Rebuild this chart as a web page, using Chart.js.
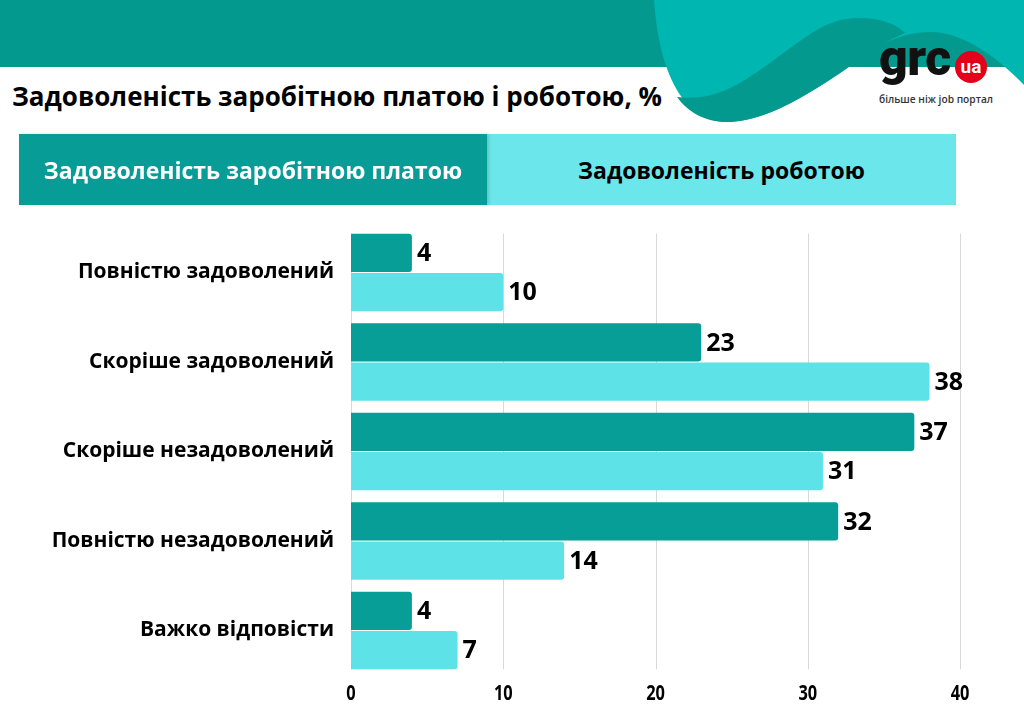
<!DOCTYPE html>
<html>
<head>
<meta charset="utf-8">
<script src="https://cdn.jsdelivr.net/npm/chart.js@4.4.1/dist/chart.umd.min.js"></script>
<style>
  html, body { margin:0; padding:0; background:#fff; }
  body { width:1024px; height:719px; position:relative; overflow:hidden; font-family:'Open Sans', sans-serif; }
  #hdr { position:absolute; left:0; top:0; }
  #legend { position:absolute; left:19px; top:134px; height:71px; display:flex; }
  #legend div { height:71px; display:flex; align-items:center; justify-content:center;
    font-family:'Open Sans', sans-serif; font-weight:700; font-size:23px; position:relative; }
  #c { position:absolute; left:0; top:0; }
</style>
</head>
<body>
<svg id="hdr" width="1024" height="130" xmlns="http://www.w3.org/2000/svg">
  <rect x="0" y="0" width="1024" height="67" fill="#03998f"/>
  <path d="M654,0 L1024,0 L1024,85 C1000,60 965,32 930,32 C880,32 850,70 800,98 C770,115 745,122 727,122 C690,122 660,85 654,0 Z" fill="#00b6b1"/>
  <path d="M677,97 C700,100 720,95 745,80 C785,55 810,28 840,20 C870,14 895,22 905,33 C875,45 850,70 800,98 C770,115 745,122 727,122 C705,122 688,112 677,97 Z" fill="#03998f"/>
  <text x="12" y="106" font-family="Open Sans" font-weight="700" font-size="26" fill="#000">Задоволеність заробітною платою і роботою, %</text>
  <text x="879" y="75" font-family="Roboto" font-weight="900" font-size="50" fill="#111" letter-spacing="-0.5">grc</text>
  <circle cx="971" cy="67" r="16" fill="#e2001a"/>
  <text x="971" y="73" text-anchor="middle" font-family="Roboto" font-weight="700" font-size="19" fill="#fff">ua</text>
  <text x="879" y="103" font-family="Open Sans" font-weight="600" font-size="11.5" fill="#333" textLength="114" lengthAdjust="spacingAndGlyphs">більше ніж job портал</text>
</svg>
<div id="legend"></div>
<canvas id="c" width="1024" height="719"></canvas>
<script>
const categories = ['Повністю задоволений', 'Скоріше задоволений', 'Скоріше незадоволений', 'Повністю незадоволений', 'Важко відповісти'];
const seriesNames = ['Задоволеність заробітною платою', 'Задоволеність роботою'];
const salaryValues = [4, 23, 37, 32, 4];
const jobValues = [10, 38, 31, 14, 7];
const xTicks = [0, 10, 20, 30, 40];

const barColors = ['#069e97', '#5de3e7'];
const legendColors = ['#079c96', '#6be6ea'];
const legendText = ['#ffffff', '#000000'];
const legendWidths = [468, 469];

const legend = document.getElementById('legend');
seriesNames.forEach((n, i) => {
  const d = document.createElement('div');
  d.textContent = n;
  d.style.background = legendColors[i];
  d.style.color = legendText[i];
  d.style.width = legendWidths[i] + 'px';
  if (i === 0) { d.style.boxShadow = '2px 0 3px rgba(0,0,0,0.15)'; d.style.zIndex = 1; }
  legend.appendChild(d);
});

const gridPlugin = {
  id: 'gridPlugin',
  beforeDatasetsDraw(chart) {
    const ctx = chart.ctx;
    const xs = chart.scales.x;
    const first = chart.getDatasetMeta(0).data[0];
    const last = chart.getDatasetMeta(1).data[categories.length - 1];
    const top = first.y - first.height / 2;
    const bottom = last.y + last.height / 2;
    ctx.save();
    ctx.strokeStyle = '#d9d9d9';
    ctx.lineWidth = 1;
    xTicks.forEach(v => {
      const x = Math.round(xs.getPixelForValue(v)) + 0.5;
      ctx.beginPath();
      ctx.moveTo(x, top);
      ctx.lineTo(x, bottom);
      ctx.stroke();
    });
    ctx.restore();
  },
  afterDraw(chart) {
    // narrow (condensed) tick labels along the x scale
    const ctx = chart.ctx;
    const xs = chart.scales.x;
    ctx.save();
    ctx.font = '700 21px "Open Sans"';
    ctx.fillStyle = '#000';
    ctx.textAlign = 'center';
    ctx.textBaseline = 'middle';
    xTicks.forEach(v => {
      const x = xs.getPixelForValue(v);
      ctx.save();
      ctx.translate(x, 694);
      ctx.scale(0.78, 1);
      ctx.fillText(String(v), 0, 0);
      ctx.restore();
    });
    ctx.restore();
  }
};

const labelPlugin = {
  id: 'labelPlugin',
  afterDatasetsDraw(chart) {
    const ctx = chart.ctx;
    ctx.save();
    ctx.font = '700 25px "Open Sans"';
    ctx.fillStyle = '#000';
    ctx.textAlign = 'left';
    ctx.textBaseline = 'middle';
    chart.data.datasets.forEach((ds, di) => {
      chart.getDatasetMeta(di).data.forEach((bar, i) => {
        ctx.fillText(String(ds.data[i]), bar.x + 5, bar.y + 1);
      });
    });
    ctx.restore();
  }
};

new Chart(document.getElementById('c'), {
  type: 'bar',
  data: {
    labels: categories,
    datasets: [
      { label: seriesNames[0], data: salaryValues, backgroundColor: barColors[0], borderRadius: 3 },
      { label: seriesNames[1], data: jobValues, backgroundColor: barColors[1], borderRadius: 3 }
    ]
  },
  options: {
    indexAxis: 'y',
    responsive: false,
    animation: false,
    events: [],
    categoryPercentage: 0.876,
    barPercentage: 0.98,
    layout: { padding: { left: 0, right: 64, top: 227.75, bottom: 0 } },
    plugins: { legend: { display: false }, tooltip: { enabled: false } },
    scales: {
      x: {
        min: 0, max: 40,
        afterBuildTicks(s) { s.ticks = xTicks.map(v => ({ value: v })); },
        afterFit(s) { s.height = 43.75; },
        grid: { display: false, drawTicks: false },
        border: { display: false },
        ticks: { display: false }
      },
      y: {
        afterFit(s) { s.width = 351; },
        grid: { display: false, drawTicks: false },
        border: { display: false },
        ticks: { padding: 17, color: '#000', font: { family: '"Open Sans"', weight: '700', size: 21 } }
      }
    }
  },
  plugins: [gridPlugin, labelPlugin]
});
</script>
</body>
</html>
